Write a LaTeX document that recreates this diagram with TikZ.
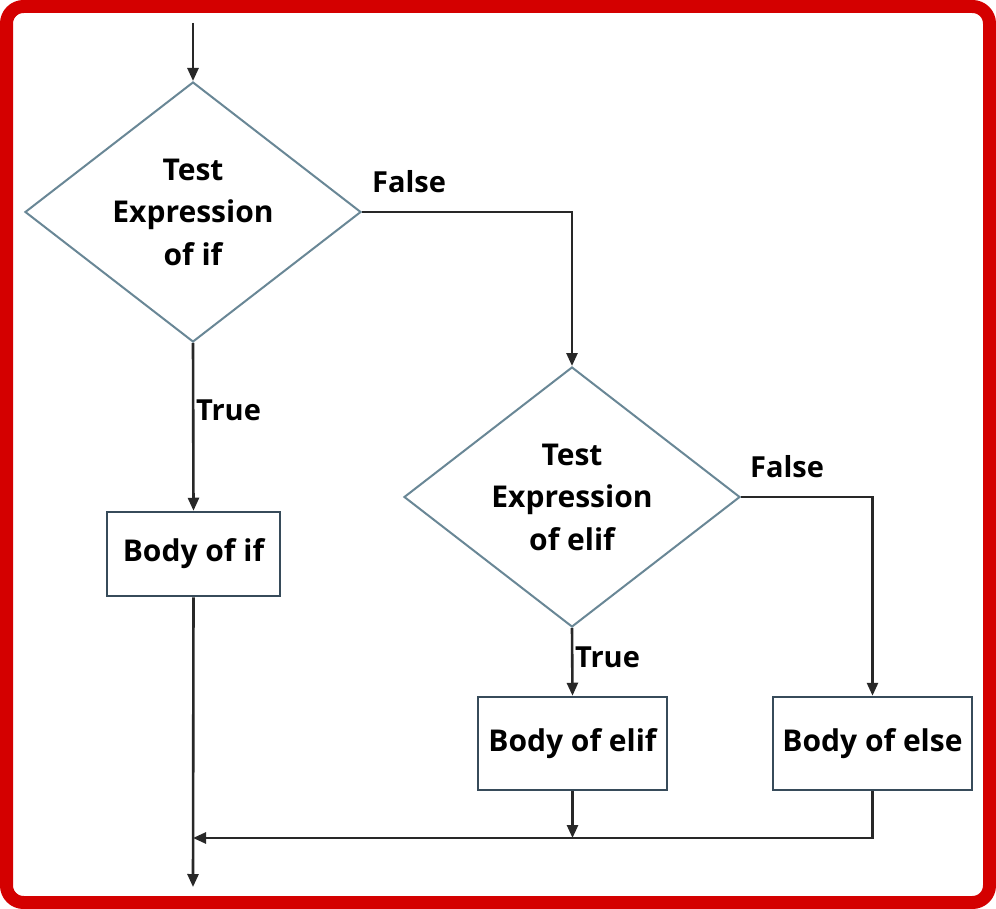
\documentclass[tikz,border=0pt]{standalone}
\usepackage{fontspec}
\setmainfont{Open Sans}
\usetikzlibrary{shapes.geometric,arrows.meta}

\definecolor{framered}{RGB}{212,0,0}
\definecolor{diamline}{RGB}{105,135,150}
\definecolor{boxline}{RGB}{55,75,90}
\definecolor{flowline}{RGB}{40,40,40}

\tikzset{
  decision/.style={diamond,draw=diamline,line width=2pt,aspect=1.29,
    minimum width=336pt,minimum height=260pt,inner sep=0pt,
    align=center,font=\fontsize{30}{42.5}\selectfont\bfseries},
  bodybox/.style={rectangle,draw=boxline,line width=2.5pt,inner sep=0pt,
    font=\fontsize{30}{34}\selectfont\bfseries},
  flow/.style={draw=flowline,line width=2.6pt,-{Triangle[length=13pt,width=11pt]}},
  branch/.style={anchor=west,inner sep=0pt,font=\fontsize{29}{34}\selectfont\bfseries}
}

\begin{document}
\begin{tikzpicture}[x=1pt,y=-1pt]
\useasboundingbox (0,0) rectangle (996,909);
\fill[white] (0,0) rectangle (996,909);
\draw[framered,line width=13pt,rounded corners=17pt](6.5,6.5) rectangle (989.5,902.5);

% decisions
\node[decision] (testif) at (193,212) {Test\\Expression\\of if};
\node[decision] (testelif) at (572,497) {Test\\Expression\\of elif};

% bodies
\node[bodybox,minimum width=173pt,minimum height=84pt] (bodyif) at (193.5,554) {Body of if};
\node[bodybox,minimum width=189pt,minimum height=93pt] (bodyelif) at (572.5,743.5) {Body of elif};
\node[bodybox,minimum width=199pt,minimum height=93pt] (bodyelse) at (872.5,743.5) {Body of else};

% free ends
\coordinate (start) at (193,23);
\coordinate (join) at (193,838);
\coordinate (stop) at (193,887);

% branch labels
\node[branch] (falseif) at (372,182) {False};
\node[branch] (falseelif) at (750,467) {False};
\node[branch] (trueif) at (196,410) {True};
\node[branch] (trueelif) at (575,657) {True};

% connectors
\draw[flow](start)--(testif.north);
\draw[flow](testif.east)-|(testelif.north);
\draw[flow](testelif.east)-|(bodyelse.north);
\draw[flow](testif.south)--(bodyif.north);
\draw[flow](testelif.south)--(bodyelif.north);
\draw[flow](bodyif.south)--(stop);
\draw[flow](bodyelif.south)--(bodyelif.south|-join);
\draw[flow](bodyelse.south)|-(join);
\end{tikzpicture}
\end{document}
